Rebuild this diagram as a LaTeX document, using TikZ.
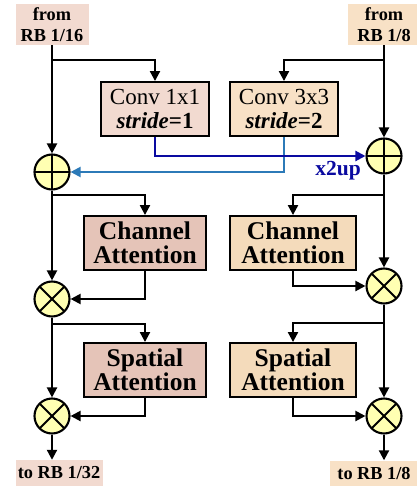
\documentclass[tikz,border=0pt]{standalone}
\usepackage{fontspec}
\setmainfont{Liberation Serif}
\usetikzlibrary{arrows.meta}
\definecolor{pinkA}{HTML}{F2DAD0}
\definecolor{pinkB}{HTML}{E5C4B8}
\definecolor{tanA}{HTML}{F8E1C6}
\definecolor{tanB}{HTML}{F4DBBB}
\definecolor{opfill}{HTML}{FFFFB2}
\definecolor{upblue}{HTML}{0A0AA0}
\definecolor{downblue}{HTML}{2C7AB8}
\tikzset{
  x=1pt, y=1pt,
  wire/.style={line width=2.1pt, -{Triangle[length=10pt,width=10pt]}},
  blockbox/.style={draw, line width=1.9pt, inner sep=0pt, align=center,
    minimum height=54pt},
  convbox/.style={blockbox, minimum width=108pt,
    font=\fontsize{23}{23.5}\selectfont},
  attbox/.style={blockbox, font=\fontsize{25.5}{24}\selectfont\bfseries},
  iolabel/.style={inner sep=0pt, align=center,
    font=\fontsize{18.3}{21}\selectfont\bfseries},
  opcircle/.style={circle, draw, line width=2.1pt, fill=opfill,
    minimum size=35pt, inner sep=0pt},
  addop/.style={opcircle, path picture={
    \draw[line width=1.9pt] (path picture bounding box.north) -- (path picture bounding box.south);
    \draw[line width=1.9pt] (path picture bounding box.west) -- (path picture bounding box.east);}},
  mulop/.style={opcircle, path picture={
    \draw[line width=1.9pt] (path picture bounding box.north east) -- (path picture bounding box.south west);
    \draw[line width=1.9pt] (path picture bounding box.north west) -- (path picture bounding box.south east);}},
}
\begin{document}
\begin{tikzpicture}
\useasboundingbox (0,0) rectangle (416,-486);

% inputs and outputs
\node[iolabel, fill=pinkA, minimum width=73pt, minimum height=41pt] (fromL) at (52,-24.5) {from\\RB 1/16};
\node[iolabel, fill=tanA, minimum width=72pt, minimum height=41pt] (fromR) at (384,-24.5) {from\\RB 1/8};
\node[iolabel, fill=pinkA, minimum width=87pt, minimum height=26pt] (toL) at (59,-473) {to RB 1/32};
\node[iolabel, fill=tanA, minimum width=88pt, minimum height=26pt] (toR) at (374,-473.5) {to RB 1/8};

% resampling convolutions
\node[convbox, fill=pinkA] (conv1) at (155,-109) {Conv 1x1\\\textbf{\textit{stride}=1}};
\node[convbox, fill=tanA] (conv3) at (284,-109) {Conv 3x3\\\textbf{\textit{stride}=2}};

% attention blocks
\node[attbox, fill=pinkB, minimum width=122pt] (chL) at (145,-243) {Channel\\Attention};
\node[attbox, fill=tanB, minimum width=126pt] (chR) at (293,-243) {Channel\\Attention};
\node[attbox, fill=pinkB, minimum width=122pt] (spL) at (145,-370) {Spatial\\Attention};
\node[attbox, fill=tanB, minimum width=126pt] (spR) at (293,-370) {Spatial\\Attention};

% fusion operators
\node[addop] (plusL) at (52,-172) {};
\node[addop] (plusR) at (384,-156) {};
\node[mulop] (mulL1) at (52,-299) {};
\node[mulop] (mulR1) at (384,-286) {};
\node[mulop] (mulL2) at (52,-416) {};
\node[mulop] (mulR2) at (384,-416) {};

% branch points
\coordinate (bL0) at (52,-60);
\coordinate (bR0) at (384,-60);
\coordinate (bL1) at (52,-195);
\coordinate (bR1) at (384,-195);
\coordinate (bL2) at (52,-324);
\coordinate (bR2) at (384,-323);

% left stream
\draw[wire] (fromL.south) -- (plusL.north);
\draw[wire] (bL0) -| (conv1.north);
\draw[wire] (plusL.south) -- (mulL1.north);
\draw[wire] (bL1) -| (chL.north);
\draw[wire] (chL.south) |- (mulL1.east);
\draw[wire] (mulL1.south) -- (mulL2.north);
\draw[wire] (bL2) -| (spL.north);
\draw[wire] (spL.south) |- (mulL2.east);
\draw[wire] (mulL2.south) -- (mulL2.south |- toL.north);

% right stream
\draw[wire] (fromR.south) -- (plusR.north);
\draw[wire] (bR0) -| (conv3.north);
\draw[wire] (plusR.south) -- (mulR1.north);
\draw[wire] (bR1) -| (chR.north);
\draw[wire] (chR.south) |- (mulR1.west);
\draw[wire] (mulR1.south) -- (mulR2.north);
\draw[wire] (bR2) -| (spR.north);
\draw[wire] (spR.south) |- (mulR2.west);
\draw[wire] (mulR2.south) -- (mulR2.south |- toR.north);

% cross-scale exchange
\draw[wire, color=downblue] (conv3.south) |- (plusL.east);
\draw[wire, color=upblue] (conv1.south) |- (plusR.west);
\node[font=\fontsize{21.5}{22}\selectfont\bfseries, text=upblue, inner sep=0pt] (up) at (338,-171) {x2up};
\end{tikzpicture}
\end{document}
